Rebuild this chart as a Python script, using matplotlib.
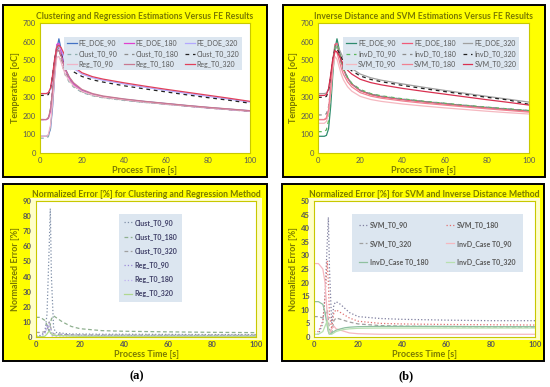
#!/usr/bin/env python

# Four panel comparison: estimated temperatures and normalized errors.

import matplotlib
matplotlib.use('Agg')
import matplotlib.pyplot as plt
import matplotlib.patches

plt.rcParams['font.family'] = ['Lato', 'DejaVu Sans']

# ---- data ----
t = [0, 3, 4, 5, 6, 7, 8, 9, 10, 11, 12, 14, 16, 20, 25, 30, 40, 50, 60, 70, 80, 90, 100]

fe_90 = [90, 90, 95, 130, 250, 420, 560, 615, 560, 500, 455, 405, 372, 337, 316, 304, 289, 277, 266, 255, 245, 236, 227]
fe_180 = [180, 180, 186, 225, 330, 480, 585, 590, 545, 492, 450, 402, 370, 335, 314, 302, 287, 275, 264, 253, 243, 234, 225]
fe_320 = [320, 320, 323, 345, 410, 505, 570, 578, 560, 535, 510, 476, 455, 425, 405, 392, 372, 354, 337, 321, 305, 290, 274]

clust_90 = [80, 80, 88, 140, 280, 460, 575, 560, 505, 455, 420, 380, 355, 326, 308, 297, 283, 272, 262, 252, 243, 234, 226]
clust_180 = [180, 180, 190, 240, 360, 500, 580, 560, 515, 470, 435, 392, 362, 330, 311, 299, 285, 273, 263, 252, 242, 233, 224]
clust_320 = [310, 310, 315, 345, 420, 510, 555, 548, 528, 505, 484, 455, 437, 412, 394, 382, 362, 345, 329, 313, 298, 284, 268]
reg_90 = [90, 90, 100, 150, 270, 420, 515, 520, 490, 455, 425, 388, 362, 332, 313, 301, 287, 275, 264, 254, 244, 235, 226]
reg_180 = [180, 180, 190, 235, 340, 470, 550, 555, 525, 485, 452, 408, 378, 342, 320, 307, 291, 278, 267, 256, 246, 237, 228]
reg_320 = [320, 320, 325, 350, 420, 510, 570, 580, 568, 545, 522, 488, 465, 432, 411, 398, 378, 360, 343, 327, 311, 295, 278]

invd_90 = [115, 115, 125, 175, 300, 460, 570, 585, 545, 495, 455, 408, 376, 342, 320, 308, 292, 279, 268, 257, 247, 238, 229]
invd_180 = [205, 205, 212, 250, 350, 490, 570, 565, 530, 485, 448, 402, 372, 338, 318, 306, 290, 278, 267, 256, 246, 237, 228]
invd_320 = [300, 300, 305, 335, 410, 500, 560, 560, 540, 515, 495, 463, 443, 415, 396, 384, 364, 347, 331, 315, 300, 286, 262]
svm_90 = [160, 160, 170, 215, 320, 450, 520, 505, 465, 425, 395, 357, 333, 305, 288, 278, 264, 253, 243, 234, 225, 217, 210]
svm_180 = [180, 180, 190, 235, 345, 480, 550, 540, 500, 458, 425, 383, 356, 325, 306, 295, 280, 268, 258, 248, 238, 229, 220]
svm_320 = [310, 310, 315, 345, 420, 505, 550, 545, 525, 500, 478, 446, 425, 397, 379, 367, 348, 332, 317, 302, 287, 273, 258]

te = [0, 2, 4, 5, 6, 6.5, 7, 8, 9, 10, 12, 14, 16, 20, 30, 40, 60, 80, 100]

err_clust_90 = [1, 1, 3, 15, 60, 85, 40, 6, 3, 3, 2.5, 2.2, 2, 2, 1.8, 1.8, 1.7, 1.6, 1.6]
err_clust_180 = [13, 13, 11, 8, 4, 8, 12, 14, 13, 12, 10, 8.5, 7, 5.5, 4.2, 3.8, 3.4, 3.1, 2.9]
err_clust_320 = [3, 3, 3.5, 5, 10, 8, 4, 2, 2, 2, 1.8, 1.6, 1.5, 1.4, 1.3, 1.3, 1.2, 1.2, 1.2]
err_reg_90 = [0.5, 0.5, 3, 8, 5, 3, 1, 0.5, 1, 1.5, 1.5, 1.4, 1.3, 1.2, 1, 1, 1, 1, 1]
err_reg_180 = [0.5, 0.5, 2, 5, 9, 6, 3, 1, 0.5, 0.5, 0.6, 0.7, 0.8, 0.8, 0.8, 0.8, 0.8, 0.8, 0.8]
err_reg_320 = [0.2, 0.2, 0.5, 2, 4, 3, 2, 1, 1, 1, 0.8, 0.7, 0.6, 0.5, 0.5, 0.5, 0.5, 0.5, 0.5]

err_svm_90 = [1, 1, 5, 15, 35, 44, 25, 5, 12, 13, 12, 10.5, 9, 7.5, 6.8, 6.5, 6.2, 6, 6]
err_svm_180 = [2, 2, 6, 15, 28, 20, 8, 3, 9, 10, 9, 8, 7, 5.8, 5, 4.8, 4.6, 4.5, 4.4]
err_svm_320 = [7.5, 7.5, 7, 8, 10, 6, 3, 1, 6, 7, 6.5, 6, 5.5, 4.8, 4.2, 4, 3.8, 3.7, 3.6]
err_invd_90 = [27, 27, 25, 20, 8, 2, 1, 3, 4, 3, 2.5, 2, 1.5, 1.2, 1, 1, 1, 1, 1]
err_invd_180 = [13, 13, 12, 9, 4, 2, 1, 1.5, 2, 2.5, 3, 3.4, 3.6, 3.8, 3.9, 3.9, 3.9, 3.8, 3.8]
err_invd_320 = [1, 1, 2, 4, 6, 3, 1, 1, 1.5, 2, 2.5, 2.8, 3, 3.2, 3.3, 3.3, 3.3, 3.3, 3.3]

# ---- figure ----
W, H = 550.0, 387.0
fig = plt.figure(figsize=(5.5, 3.87), dpi=100, facecolor='white')

olive = '#7a7a00'
tickc = '#595959'

def px(x, y, w, h):
    # pixel box (top-left origin) -> figure fraction
    return [x / W, 1 - (y + h) / H, w / W, h / H]

# yellow framed boxes
for (x0, y0, w, h) in [(3, 5, 264, 172), (283, 5, 262, 172),
                       (3, 184, 264, 177), (282, 184, 262, 177)]:
    fig.add_artist(matplotlib.patches.Rectangle(
        (x0 / W, 1 - (y0 + h) / H), w / W, h / H, transform=fig.transFigure,
        facecolor='#ffff00', edgecolor='black', linewidth=1.4, zorder=0))

# pale chart areas in the bottom panels
for (x0, y0, w, h) in [(30, 198, 232, 142), (308, 198, 232, 142)]:
    fig.add_artist(matplotlib.patches.Rectangle(
        (x0 / W, 1 - (y0 + h) / H), w / W, h / H, transform=fig.transFigure,
        facecolor='#ffffc8', edgecolor='none', zorder=0))

ax_a = fig.add_axes(px(40, 23, 210, 130))
ax_b = fig.add_axes(px(318, 23, 211, 130))
ax_c = fig.add_axes(px(36, 201, 220, 136))
ax_d = fig.add_axes(px(314, 201, 221, 136))

def style(ax, ymax, ystep, ylabel, title, bold_ticks=False):
    ax.set_xlim(0, 100)
    ax.set_ylim(0, ymax)
    ax.set_xticks(range(0, 101, 20))
    ax.set_yticks(range(0, ymax + 1, ystep))
    ax.tick_params(length=0, labelsize=5.5, colors=tickc, pad=3)
    if bold_ticks:
        for lab in ax.get_xticklabels() + ax.get_yticklabels():
            lab.set_fontweight('bold')
    for s in ax.spines.values():
        s.set_color('#c8c800')
        s.set_linewidth(0.8)
    ax.set_xlabel('Process Time [s]', fontsize=6.5, fontweight='bold',
                  color=olive, labelpad=1)
    ax.set_ylabel(ylabel, fontsize=6.5, fontweight='bold', color=olive,
                  labelpad=2)
    ax.set_title(title, fontsize=6.2, fontweight='bold', color=olive, pad=3)

def legend(ax, order, ncol, anchor, loc, **kw):
    # order is the wanted row-major order; matplotlib fills columns first
    h, l = ax.get_legend_handles_labels()
    nrow = (len(order) + ncol - 1) // ncol
    idx = [order[r * ncol + c] for c in range(ncol) for r in range(nrow)]
    leg = ax.legend([h[i] for i in idx], [l[i] for i in idx], ncol=ncol,
                    fontsize=5, loc=loc, bbox_to_anchor=anchor, frameon=True,
                    fancybox=False, **kw)
    leg.get_frame().set_facecolor('#dce6f0')
    leg.get_frame().set_edgecolor('none')
    leg.get_frame().set_alpha(1)
    return leg

# (a) top
style(ax_a, 700, 100, 'Temperature [oC]',
      'Clustering and Regression Estimations Versus FE Results')
ax_a.plot(t, fe_90, color='#4472c4', lw=0.9, label='FE_DOE_90')
ax_a.plot(t, fe_180, color='#e040d0', lw=0.9, label='FE_DOE_180')
ax_a.plot(t, fe_320, color='#b4a8ff', lw=0.9, label='FE_DOE_320')
ax_a.plot(t, clust_90, color='#8fb0b0', lw=0.9, ls=(0, (3, 3)), label='Clust_T0_90')
ax_a.plot(t, clust_180, color='#8c8c8c', lw=0.9, ls=(0, (3, 3)), label='Clust_T0_180')
ax_a.plot(t, clust_320, color='#222222', lw=0.9, ls=(0, (3, 3)), label='Clust_T0_320')
ax_a.plot(t, reg_90, color='#f0b4c8', lw=0.9, label='Reg_T0_90')
ax_a.plot(t, reg_180, color='#c87890', lw=0.9, label='Reg_T0_180')
ax_a.plot(t, reg_320, color='#e0405a', lw=0.9, label='Reg_T0_320')
legend(ax_a, list(range(9)), 3, (0.98, 0.92), 'upper right',
       handlelength=1.4, handletextpad=0.3, columnspacing=0.9,
       labelspacing=0.5, borderpad=0.4, labelcolor='#595959')

# (b) top
style(ax_b, 700, 100, 'Temperature [oC]',
      'Inverse Distance and SVM Estimations Versus FE Results')
ax_b.plot(t, fe_90, color='#2e8b6e', lw=0.9, label='FE_DOE_90')
ax_b.plot(t, fe_180, color='#f05a78', lw=0.9, label='FE_DOE_180')
ax_b.plot(t, fe_320, color='#a0a0a0', lw=0.9, label='FE_DOE_320')
ax_b.plot(t, invd_90, color='#5cb85c', lw=0.9, ls=(0, (3, 3)), label='InvD_T0_90')
ax_b.plot(t, invd_180, color='#8c8c8c', lw=0.9, ls=(0, (3, 3)), label='InvD_T0_180')
ax_b.plot(t, invd_320, color='#222222', lw=0.9, ls=(0, (3, 3)), label='InvD_T0_320')
ax_b.plot(t, svm_90, color='#f5b8c0', lw=0.9, label='SVM_T0_90')
ax_b.plot(t, svm_180, color='#f08090', lw=0.9, label='SVM_T0_180')
ax_b.plot(t, svm_320, color='#d83050', lw=0.9, label='SVM_T0_320')
legend(ax_b, list(range(9)), 3, (0.97, 0.92), 'upper right',
       handlelength=1.4, handletextpad=0.3, columnspacing=0.9,
       labelspacing=0.5, borderpad=0.4, labelcolor='#595959')

# (a) bottom
style(ax_c, 90, 10, 'Normalized Error [%]',
      'Normalized Error [%] for Clustering and Regression Method', True)
ax_c.plot(te, err_clust_90, color='#7f8fa8', lw=0.9, ls=':', label='Clust_T0_90')
ax_c.plot(te, err_clust_180, color='#8fb08f', lw=0.9, ls=(0, (3, 2)), label='Clust_T0_180')
ax_c.plot(te, err_clust_320, color='#a0a0a0', lw=0.9, ls=(0, (3, 2)), label='Clust_T0_320')
ax_c.plot(te, err_reg_90, color='#9c88d8', lw=0.9, ls=':', label='Reg_T0_90')
ax_c.plot(te, err_reg_180, color='#c0b0f0', lw=0.9, ls=':', label='Reg_T0_180')
ax_c.plot(te, err_reg_320, color='#b0d890', lw=0.9, label='Reg_T0_320')
leg = legend(ax_c, list(range(6)), 1, (0.36, 0.93), 'upper left',
             handlelength=1.2, handletextpad=0.4, labelspacing=1.05,
             borderpad=0.7, labelcolor='#404068')
for txt in leg.get_texts():
    txt.set_fontweight('bold')

# (b) bottom
style(ax_d, 50, 5, 'Normalized Error [%]',
      'Normalized Error [%] for SVM and Inverse Distance Method', True)
ax_d.plot(te, err_svm_90, color='#7f7f9f', lw=0.9, ls=':', label='SVM_T0_90')
ax_d.plot(te, err_svm_180, color='#e07070', lw=0.9, ls=':', label='SVM_T0_180')
ax_d.plot(te, err_svm_320, color='#a0a0a0', lw=0.9, ls=(0, (3, 2)), label='SVM_T0_320')
ax_d.plot(te, err_invd_90, color='#f5b8c0', lw=0.9, label='InvD_Case T0_90')
ax_d.plot(te, err_invd_180, color='#8fc0a0', lw=0.9, label='InvD_Case T0_180')
ax_d.plot(te, err_invd_320, color='#b8e0b0', lw=0.9, label='InvD_Case T0_320')
leg = legend(ax_d, list(range(6)), 2, (0.96, 0.93), 'upper right',
             handlelength=1.2, handletextpad=0.4, columnspacing=2.5,
             labelspacing=1.7, borderpad=1.0, labelcolor='#595959')
for txt in leg.get_texts():
    txt.set_fontweight('bold')

fig.text(137 / W, 1 - 376 / H, '(a)', ha='center', va='center',
         fontsize=9, fontweight='bold', family='Liberation Serif')
fig.text(406 / W, 1 - 376 / H, '(b)', ha='center', va='center',
         fontsize=9, fontweight='bold', family='Liberation Serif')

fig.savefig('out.png', dpi=100)
